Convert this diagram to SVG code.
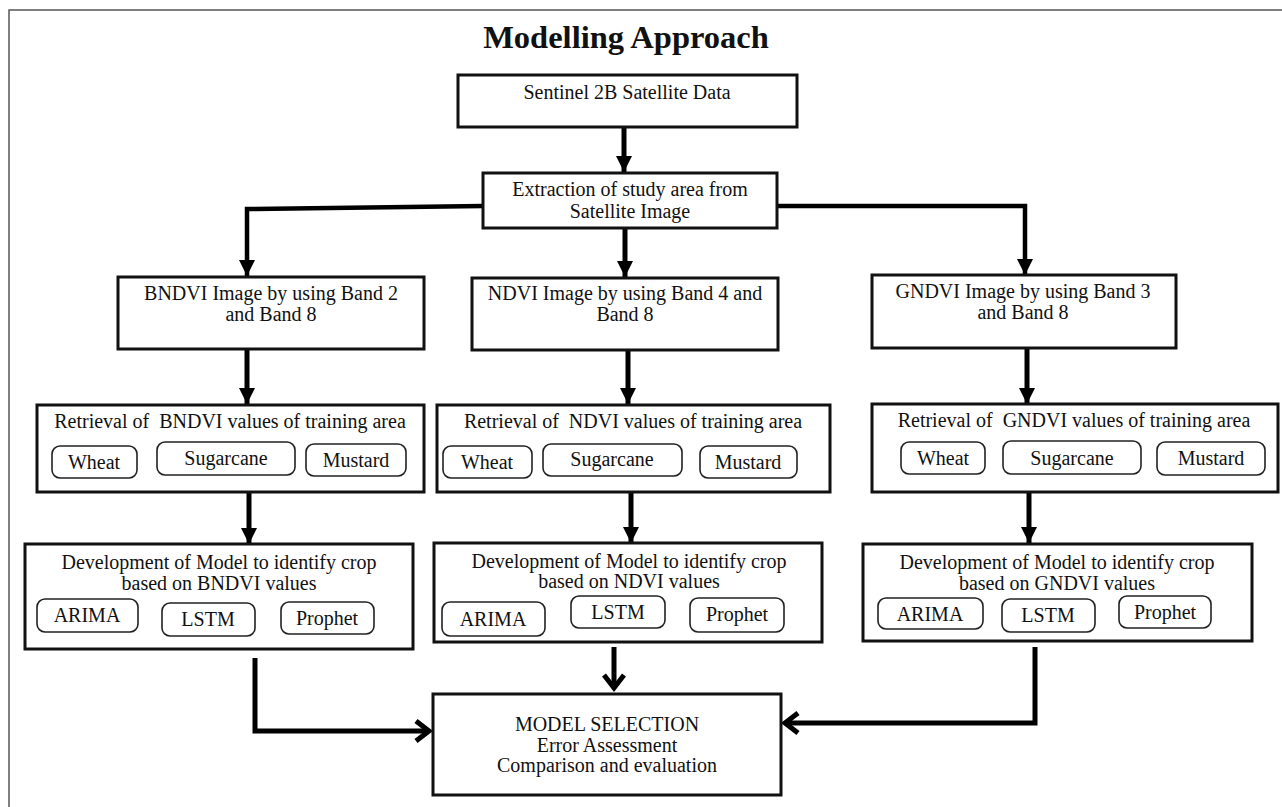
<svg xmlns="http://www.w3.org/2000/svg" width="1282" height="807" viewBox="0 0 1282 807" font-family="'Liberation Serif', 'Times New Roman', Times, 'DejaVu Serif', serif">
<style>
text{fill:#111;text-anchor:middle}
.t{font-size:20px}
.title{font-size:32.5px;font-weight:bold}
.box{fill:#fff;stroke:#111;stroke-width:3}
.pill{fill:#fff;stroke:#222;stroke-width:1.6}
.c{fill:none;stroke:#000;stroke-width:5}
.c2{fill:none;stroke:#000;stroke-width:4.5}
.frame{fill:none;stroke:#555;stroke-width:1.5}
</style>
<defs>
<marker id="ah" markerUnits="userSpaceOnUse" markerWidth="18" markerHeight="18" refX="16" refY="8" orient="auto">
<path d="M0,0 L16,8 L0,16 z" fill="#000"/>
</marker>
<marker id="ch" markerUnits="userSpaceOnUse" markerWidth="24" markerHeight="26" refX="16" refY="12" orient="auto">
<path d="M3,2 L16,12 L3,22" fill="none" stroke="#000" stroke-width="5"/>
</marker>
</defs>
<rect width="1282" height="807" fill="#fff"/>
<path class="frame" d="M9,807 L9,10 L1282,10"/>
<text class="title" x="626" y="48">Modelling Approach</text>

<g id="connectors">
<path class="c" d="M624,127 L624,172" marker-end="url(#ah)"/>
<path class="c2" d="M483,206 L247,209 L247,276" marker-end="url(#ah)"/>
<path class="c" d="M625,228 L625,277" marker-end="url(#ah)"/>
<path class="c2" d="M777,206 L1025,206 L1025,275" marker-end="url(#ah)"/>
<path class="c" d="M247,349 L247,404" marker-end="url(#ah)"/>
<path class="c" d="M628,350 L628,404" marker-end="url(#ah)"/>
<path class="c" d="M1027,348 L1027,404" marker-end="url(#ah)"/>
<path class="c" d="M249,492 L249,544" marker-end="url(#ah)"/>
<path class="c" d="M631,492 L631,543" marker-end="url(#ah)"/>
<path class="c" d="M1029,492 L1029,543" marker-end="url(#ah)"/>
<path class="c" d="M614,647 L614,688" marker-end="url(#ch)"/>
<path class="c" d="M255,658 L255,731 L429,731" marker-end="url(#ch)"/>
<path class="c" d="M1035,647 L1035,723 L785,723" marker-end="url(#ch)"/>
</g>

<g id="sentinel">
<rect class="box" x="458" y="75" width="339" height="52"/>
<text class="t" x="627" y="99">Sentinel 2B Satellite Data</text>
</g>
<g id="extraction">
<rect class="box" x="483" y="173" width="294" height="55"/>
<text class="t" x="630" y="196">Extraction of study area from</text>
<text class="t" x="630" y="218">Satellite Image</text>
</g>

<g id="bndvi">
<rect class="box" x="118" y="277" width="306" height="72"/>
<text class="t" x="271" y="300">BNDVI Image by using Band 2</text>
<text class="t" x="271" y="321">and Band 8</text>
</g>
<g id="ndvi">
<rect class="box" x="472" y="278" width="306" height="72"/>
<text class="t" x="625" y="300">NDVI Image by using Band 4 and</text>
<text class="t" x="625" y="321">Band 8</text>
</g>
<g id="gndvi">
<rect class="box" x="872" y="275" width="304" height="73"/>
<text class="t" x="1023" y="298">GNDVI Image by using Band 3</text>
<text class="t" x="1023" y="319">and Band 8</text>
</g>

<g id="ret-b">
<rect class="box" x="37" y="405" width="387" height="87"/>
<text class="t" x="230" y="428" xml:space="preserve">Retrieval of  BNDVI values of training area</text>
<rect class="pill" x="52" y="446" width="85" height="32" rx="8"/>
<text class="t" x="94" y="469">Wheat</text>
<rect class="pill" x="157" y="442" width="138" height="33" rx="8"/>
<text class="t" x="226" y="465">Sugarcane</text>
<rect class="pill" x="306" y="444" width="100" height="32" rx="8"/>
<text class="t" x="356" y="467">Mustard</text>
</g>
<g id="ret-n">
<rect class="box" x="437" y="405" width="393" height="87"/>
<text class="t" x="633" y="428" xml:space="preserve">Retrieval of  NDVI values of training area</text>
<rect class="pill" x="443" y="446" width="89" height="32" rx="8"/>
<text class="t" x="487" y="469">Wheat</text>
<rect class="pill" x="543" y="444" width="139" height="32" rx="8"/>
<text class="t" x="612" y="466">Sugarcane</text>
<rect class="pill" x="700" y="446" width="97" height="32" rx="8"/>
<text class="t" x="748" y="469">Mustard</text>
</g>
<g id="ret-g">
<rect class="box" x="872" y="404" width="406" height="88"/>
<text class="t" x="1074" y="427" xml:space="preserve">Retrieval of  GNDVI values of training area</text>
<rect class="pill" x="901" y="442" width="84" height="32" rx="8"/>
<text class="t" x="943" y="465">Wheat</text>
<rect class="pill" x="1003" y="441" width="138" height="33" rx="8"/>
<text class="t" x="1072" y="465">Sugarcane</text>
<rect class="pill" x="1157" y="442" width="108" height="33" rx="8"/>
<text class="t" x="1211" y="465">Mustard</text>
</g>

<g id="dev-b">
<rect class="box" x="25" y="544" width="388" height="105"/>
<text class="t" x="219" y="569">Development of Model to identify crop</text>
<text class="t" x="219" y="590">based on BNDVI values</text>
<rect class="pill" x="37" y="599" width="101" height="33" rx="8"/>
<text class="t" x="87" y="622">ARIMA</text>
<rect class="pill" x="162" y="603" width="93" height="33" rx="8"/>
<text class="t" x="208" y="626">LSTM</text>
<rect class="pill" x="281" y="602" width="93" height="32" rx="8"/>
<text class="t" x="327" y="625">Prophet</text>
</g>
<g id="dev-n">
<rect class="box" x="434" y="543" width="388" height="99"/>
<text class="t" x="629" y="568">Development of Model to identify crop</text>
<text class="t" x="629" y="588">based on NDVI values</text>
<rect class="pill" x="442" y="602" width="103" height="34" rx="8"/>
<text class="t" x="493" y="626">ARIMA</text>
<rect class="pill" x="571" y="596" width="94" height="32" rx="8"/>
<text class="t" x="618" y="619">LSTM</text>
<rect class="pill" x="690" y="598" width="94" height="34" rx="8"/>
<text class="t" x="737" y="621">Prophet</text>
</g>
<g id="dev-g">
<rect class="box" x="863" y="544" width="389" height="97"/>
<text class="t" x="1057" y="569">Development of Model to identify crop</text>
<text class="t" x="1057" y="590">based on GNDVI values</text>
<rect class="pill" x="878" y="598" width="105" height="31" rx="8"/>
<text class="t" x="930" y="621">ARIMA</text>
<rect class="pill" x="1002" y="599" width="93" height="33" rx="8"/>
<text class="t" x="1048" y="622">LSTM</text>
<rect class="pill" x="1119" y="596" width="92" height="32" rx="8"/>
<text class="t" x="1165" y="619">Prophet</text>
</g>

<g id="model-selection">
<rect class="box" x="433" y="694" width="348" height="101"/>
<text class="t" x="607" y="731">MODEL SELECTION</text>
<text class="t" x="607" y="752">Error Assessment</text>
<text class="t" x="607" y="772">Comparison and evaluation</text>
</g>
</svg>
